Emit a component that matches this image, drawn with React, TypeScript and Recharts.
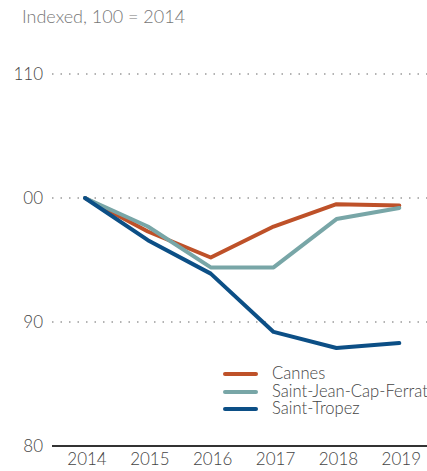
import React from "react";
import { LineChart, Line, XAxis, YAxis, CartesianGrid, ReferenceLine } from "recharts";

const years = [2014, 2015, 2016, 2017, 2018, 2019];
const cannes = [100, 97.3, 95.2, 97.7, 99.5, 99.4];
const capFerrat = [100, 97.7, 94.4, 94.4, 98.3, 99.2];
const tropez = [100, 96.6, 93.9, 89.2, 87.9, 88.3];
const seriesNames = ["Cannes", "Saint-Jean-Cap-Ferrat", "Saint-Tropez"];
const seriesKeys = ["cannes", "capFerrat", "tropez"];
const seriesColors = ["#BE5129", "#78A6A7", "#0C4F86"];
const yTicks = [80, 90, 100, 110];
const yTickLabels = ["80", "90", "00", "110"];
const subtitle = "Indexed, 100 = 2014";

const data = years.map((y, i) => ({
  year: y,
  cannes: cannes[i],
  capFerrat: capFerrat[i],
  tropez: tropez[i],
}));

const FONT = "Lato, 'Liberation Sans', sans-serif";

export default function App() {
  return (
    <div
      style={{
        position: "fixed",
        left: 0,
        top: 0,
        width: 427,
        height: 471,
        overflow: "hidden",
        background: "#fff",
      }}
    >
      <div
        style={{
          position: "absolute",
          left: 22,
          top: 5,
          fontFamily: FONT,
          fontSize: 18,
          fontWeight: 300,
          color: "#777",
          whiteSpace: "nowrap",
        }}
      >
        {subtitle}
      </div>
      <div style={{ position: "absolute", left: 0, top: 0 }}>
        <LineChart
          width={432}
          height={471}
          data={data}
          margin={{ top: 74, right: 0, bottom: 0, left: 0 }}
          style={{ overflow: "visible" }}
        >
          <CartesianGrid
            horizontal
            vertical={false}
            stroke="#9a9a9a"
            strokeDasharray="1.5 7"
            strokeWidth={1.3}
            horizontalValues={[90, 100, 110]}
          />
          <XAxis
            dataKey="year"
            type="number"
            domain={[2013.475, 2019.52]}
            ticks={years}
            tickLine={false}
            axisLine={false}
            tick={{ fontFamily: FONT, fontSize: 17, fill: "#444", fontWeight: 300, dx: 2 }}
            tickMargin={1}
            height={25}
          />
          <YAxis
            type="number"
            domain={[80, 110]}
            ticks={yTicks}
            width={52}
            tickLine={false}
            axisLine={false}
            tickFormatter={(v: number) => yTickLabels[yTicks.indexOf(v)]}
            tick={{ fontFamily: FONT, fontSize: 17, fill: "#444", fontWeight: 300, textAnchor: "end", dx: 5 }}
            tickMargin={8}
          />
          <ReferenceLine y={80} stroke="#333" strokeWidth={2} ifOverflow="visible" />
          {seriesKeys.map((k, i) => (
            <Line
              key={k}
              type="linear"
              dataKey={k}
              name={seriesNames[i]}
              stroke={seriesColors[i]}
              strokeWidth={4}
              dot={false}
              activeDot={false}
              isAnimationActive={false}
              strokeLinecap="round"
              strokeLinejoin="round"
            />
          ))}
        </LineChart>
      </div>
      <div
        style={{
          position: "absolute",
          left: 223,
          top: 365,
          fontFamily: FONT,
          fontSize: 16.6,
          lineHeight: "17.7px",
          color: "#444",
          fontWeight: 300,
        }}
      >
        {seriesNames.map((n, i) => (
          <div key={n} style={{ display: "flex", alignItems: "center", height: 17.7, whiteSpace: "nowrap" }}>
            <span
              style={{
                display: "inline-block",
                width: 35,
                height: 4,
                borderRadius: 2,
                background: seriesColors[i],
                marginRight: 14,
              }}
            />
            <span style={{ lineHeight: "17.7px" }}>{n}</span>
          </div>
        ))}
      </div>
    </div>
  );
}
